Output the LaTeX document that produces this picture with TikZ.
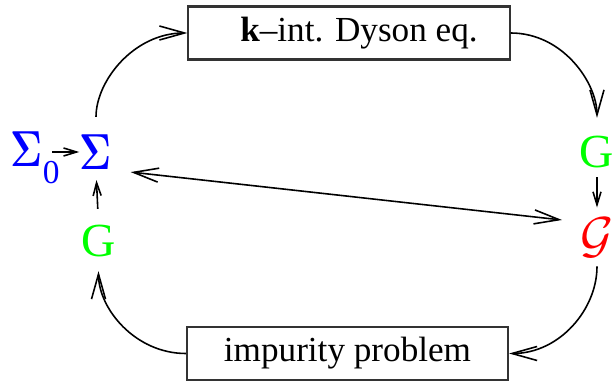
\documentclass[tikz,border=0pt]{standalone}
\usepackage[no-math]{fontspec}
\setmainfont{Liberation Serif}
\usetikzlibrary{positioning,arrows.meta}
\definecolor{sigblue}{HTML}{0000FF}
\definecolor{ggreen}{HTML}{00FF00}
\definecolor{locred}{HTML}{FF0000}
\newcommand{\bsig}{\scalebox{0.78}[1]{$\mathbf{\Sigma}$}}

\tikzset{
  stepbox/.style={draw=black!80, line width=0.6pt, minimum width=3.21cm, minimum height=0.53cm, inner sep=0pt},
  qty/.style={inner sep=0pt, font=\fontsize{13.5}{16}\selectfont},
  bigarr/.style={line width=0.45pt, -{Straight Barb[length=2.5mm,width=1.4mm]}},
  bothbig/.style={line width=0.45pt, {Straight Barb[length=2.5mm,width=1.4mm]}-{Straight Barb[length=2.5mm,width=1.4mm]}},
  smallarr/.style={line width=0.45pt, -{Straight Barb[length=1.3mm,width=0.8mm]}}
}

\begin{document}
\begin{tikzpicture}[x=0.01cm,y=0.01cm]
\useasboundingbox (0,0) rectangle (612,382);
% boxes
\node[stepbox] (dyson) at (349,349) {\hspace*{2mm}\textbf{k}–int. Dyson eq.};
\node[stepbox] (impurity) at (347.5,28.5) {impurity problem};
% quantities
\node[qty, text=sigblue] (sig) at (96,230) {\bsig};
\node[qty, text=sigblue, anchor=base west] (sig0) at (10,215) {\bsig\raisebox{-0.35em}{\fontsize{9.5}{11}\selectfont 0}};
\node[qty, text=ggreen] (gleft) at (98.5,140.5) {G};
\node[qty, text=ggreen] (gright) at (597,229.5) {G};
\node[qty, text=locred] (calg) at (597,144) {$\mathcal{G}$};
\coordinate (fbend) at (562,162);
% short arrows
\draw[smallarr, shorten <=-0.08cm] (sig0.east |- sig.west) -- (sig.west);
\draw[smallarr, shorten <=0.16cm, shorten >=0.1cm] (gleft.north) -- (sig.south);
\draw[smallarr, shorten <=0.08cm, shorten >=0.1cm] (gright.south) -- (calg.north);
% loop
\draw[bigarr, shorten <=0.17cm] (sig.north) to[out=90,in=180] (dyson.west);
\draw[bigarr, shorten >=0.18cm] (dyson.east) to[out=0,in=90] (gright.north);
\draw[bigarr, shorten <=0.08cm] (calg.south) to[out=-90,in=0] (impurity.east);
\draw[bigarr, shorten >=0.13cm] (impurity.west) to[out=180,in=-90] (gleft.south);
% feedback
\draw[bothbig, shorten <=0.18cm] (sig.south east) -- (fbend);
\end{tikzpicture}
\end{document}
